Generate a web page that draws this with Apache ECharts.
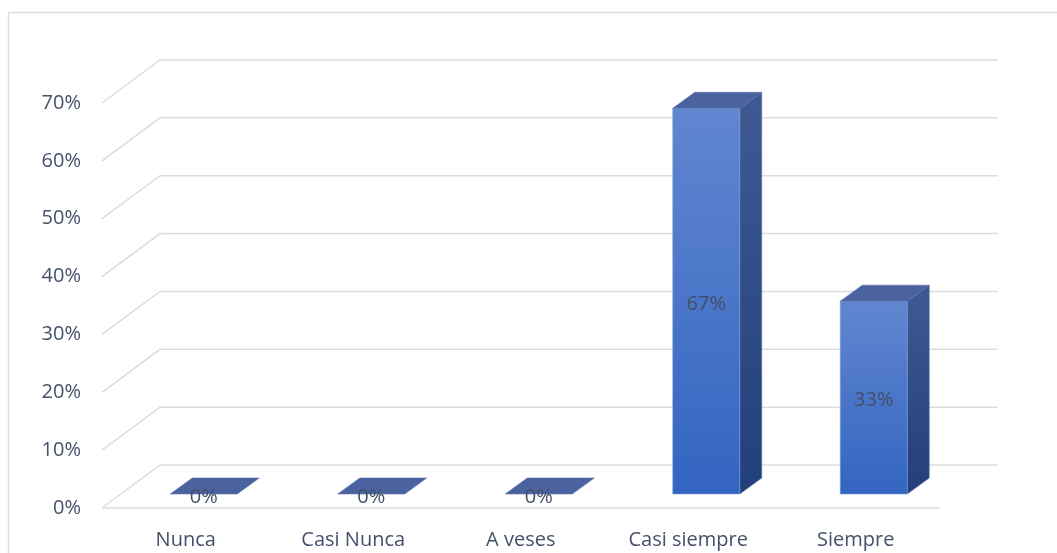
<!DOCTYPE html>
<html>
<head>
<meta charset="utf-8">
<script src="https://cdn.jsdelivr.net/npm/echarts@6/dist/echarts.min.js"></script>
<style>
html,body{margin:0;padding:0;background:#fff;}
#chart{width:1057px;height:553px;}
</style>
</head>
<body>
<div id="chart"></div>
<script>
const categories = ['Nunca', 'Casi Nunca', 'A veses', 'Casi siempre', 'Siempre'];
const values = [0, 0, 0, 66.67, 33.33];
const yTicks = [0, 10, 20, 30, 40, 50, 60, 70];

// perspective constants (styling)
const WALL_DX = 58, WALL_DY = 43;   // floor depth
const BAR_OX = 18, BAR_OY = 14;     // bar front face offset from front plane
const BAR_DX = 22, BAR_DY = 16;     // bar depth
const GRID_COLOR = '#d9dde3';
const TEXT_COLOR = '#44516a';

const chart = echarts.init(document.getElementById('chart'));

function renderGrid(params, api) {
  const cs = params.coordSys;
  const v = api.value(1);
  const y = api.coord([0, v])[1];
  const children = [{
    type: 'polyline',
    shape: { points: [[cs.x, y], [cs.x + WALL_DX, y - WALL_DY], [cs.x + cs.width + WALL_DX, y - WALL_DY]] },
    style: { stroke: GRID_COLOR, lineWidth: 1.5, fill: null },
    silent: true
  }];
  if (v === 0) {
    children.push({
      type: 'line',
      shape: { x1: cs.x, y1: y, x2: cs.x + cs.width, y2: y },
      style: { stroke: GRID_COLOR, lineWidth: 1.5 },
      silent: true
    });
  }
  return { type: 'group', children: children };
}

function renderBar(params, api) {
  const i = api.value(0);
  const v = api.value(1);
  const p0 = api.coord([i, 0]);
  const p1 = api.coord([i, v]);
  const h = p0[1] - p1[1];
  const w = api.size([1, 0])[0] * 0.4;
  const fx = p0[0] + BAR_OX - w / 2;
  const fy = p0[1] - BAR_OY;
  const ty = fy - h;
  const children = [];
  if (h > 0) {
    children.push({
      type: 'polygon',
      shape: { points: [[fx + w, ty], [fx + w + BAR_DX, ty - BAR_DY], [fx + w + BAR_DX, fy - BAR_DY], [fx + w, fy]] },
      style: {
        fill: { type: 'linear', x: 0, y: 0, x2: 0, y2: 1, colorStops: [{ offset: 0, color: '#3f5a93' }, { offset: 1, color: '#213f7b' }] },
        stroke: '#5a73a8', lineWidth: 0.6
      }
    });
    children.push({
      type: 'rect',
      shape: { x: fx, y: ty, width: w, height: h },
      style: {
        fill: { type: 'linear', x: 0, y: 0, x2: 0, y2: 1, colorStops: [{ offset: 0, color: '#6286d0' }, { offset: 1, color: '#3265c1' }] },
        stroke: '#7f9bd6', lineWidth: 0.6
      }
    });
  }
  children.push({
    type: 'polygon',
    shape: { points: [[fx, ty], [fx + BAR_DX, ty - BAR_DY], [fx + w + BAR_DX, ty - BAR_DY], [fx + w, ty]] },
    style: { fill: '#4a63a0', stroke: '#5a73ab', lineWidth: 0.6 }
  });
  children.push({
    type: 'text',
    style: {
      text: Math.round(v) + '%',
      x: fx + w / 2,
      y: fy - h / 2 + 3,
      align: 'center',
      verticalAlign: 'middle',
      fill: '#434e66',
      font: '20px "Open Sans"'
    },
    z2: 10
  });
  return { type: 'group', children: children };
}

chart.setOption({
  animation: false,
  backgroundColor: '#ffffff',
  graphic: [{
    type: 'rect',
    shape: { x: 8.5, y: 12.5, width: 1200, height: 700 },
    style: { fill: null, stroke: GRID_COLOR, lineWidth: 1.5 },
    silent: true,
    z: -10
  }],
  grid: { left: 102, right: 117.5, top: 103, bottom: 45, containLabel: false, outerBoundsMode: 'none' },
  xAxis: {
    type: 'category',
    data: categories,
    axisLine: { show: false },
    axisTick: { show: false },
    splitLine: { show: false },
    axisLabel: { margin: 20, color: TEXT_COLOR, fontFamily: 'Open Sans', fontSize: 20, lineHeight: 24 }
  },
  yAxis: {
    type: 'value',
    min: 0,
    max: 70,
    interval: 10,
    axisLine: { show: false },
    axisTick: { show: false },
    splitLine: { show: false },
    axisLabel: {
      formatter: '{value}%', margin: 21, color: TEXT_COLOR, fontFamily: 'Open Sans', fontSize: 20
    }
  },
  series: [
    {
      type: 'custom',
      renderItem: renderGrid,
      data: yTicks.map(function (t) { return [0, t]; }),
      encode: { x: 0, y: 1 },
      z: 1,
      silent: true,
      clip: false
    },
    {
      type: 'custom',
      renderItem: renderBar,
      data: values.map(function (v, i) { return [i, v]; }),
      encode: { x: 0, y: 1 },
      z: 5,
      clip: false
    }
  ]
});
</script>
</body>
</html>
